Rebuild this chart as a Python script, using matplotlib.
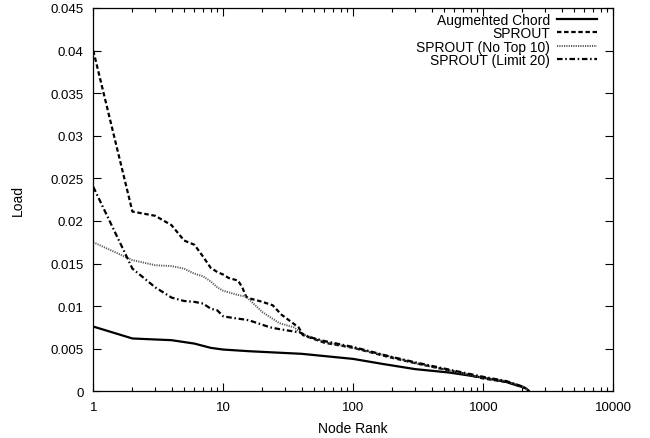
import matplotlib
matplotlib.use("Agg")
import matplotlib.pyplot as plt
from matplotlib.ticker import FixedLocator, LogLocator, NullFormatter

plt.rcParams['font.family'] = ['Liberation Sans', 'DejaVu Sans']

# ---- data ----
chord_rank = [1, 2, 4, 6, 8, 10, 16, 40, 100, 170, 300, 550, 1000, 1500, 1800, 2000, 2150, 2250]
chord_load = [0.0076, 0.0062, 0.0060, 0.0056, 0.0051, 0.0049, 0.0047, 0.0044, 0.0038, 0.0032,
              0.0026, 0.0022, 0.0016, 0.0011, 0.0007, 0.0005, 0.0003, 0.0]

sprout_rank = [1, 2, 3, 4, 5, 6, 7, 8, 9, 10, 11, 13, 14, 15, 16, 20, 24, 28, 38, 41, 60, 100,
               190, 300, 490, 700, 1000, 1500, 1970, 2150, 2250]
sprout_load = [0.0400, 0.0211, 0.0206, 0.0195, 0.0177, 0.0172, 0.0158, 0.0145, 0.0140, 0.0137,
               0.0133, 0.0130, 0.0122, 0.0111, 0.0109, 0.0105, 0.0101, 0.0090, 0.0075, 0.0066,
               0.0057, 0.0051, 0.0040, 0.0033, 0.0026, 0.0021, 0.0015, 0.0011, 0.0006, 0.0003, 0.0]

notop_rank = [1, 2, 3, 4, 5, 6, 7, 8, 9, 10, 13, 15, 16, 20, 27, 35, 41, 60, 100,
              190, 300, 490, 700, 1000, 1500, 1970, 2150, 2250]
notop_load = [0.0175, 0.0154, 0.0148, 0.0147, 0.0144, 0.0138, 0.0135, 0.0129, 0.0122, 0.0118,
              0.0113, 0.0111, 0.0107, 0.0093, 0.0080, 0.0075, 0.0067, 0.0058, 0.0051,
              0.0041, 0.0033, 0.0026, 0.0021, 0.0016, 0.0012, 0.0006, 0.0003, 0.0]

limit_rank = [1, 2, 3, 4, 5, 6, 7, 8, 9, 10, 12, 15, 16, 23, 27, 39, 45, 60, 100,
              190, 300, 490, 700, 1000, 1500, 1970, 2150, 2250]
limit_load = [0.0240, 0.0144, 0.0122, 0.0110, 0.0106, 0.0105, 0.0103, 0.0097, 0.0095, 0.0088,
              0.0086, 0.0084, 0.0083, 0.0075, 0.0073, 0.0069, 0.0064, 0.0059, 0.0052,
              0.0041, 0.0034, 0.0027, 0.0022, 0.0017, 0.0012, 0.0006, 0.0003, 0.0]

labels = ["Augmented Chord", "SPROUT", "SPROUT (No Top 10)", "SPROUT (Limit 20)"]
y_ticks = [0, 0.005, 0.01, 0.015, 0.02, 0.025, 0.03, 0.035, 0.04, 0.045]
y_tick_labels = ["0", "0.005", "0.01", "0.015", "0.02", "0.025", "0.03", "0.035", "0.04", "0.045"]
x_ticks = [1, 10, 100, 1000, 10000]
x_tick_labels = ["1", "10", "100", "1000", "10000"]

# ---- figure ----
fig = plt.figure(figsize=(6.5, 4.39), dpi=100)
ax = fig.add_axes([0.1435, 0.1064, 0.80, 0.8731])

ax.plot(chord_rank, chord_load, color='black', lw=1.6, label=labels[0])
ax.plot(sprout_rank, sprout_load, color='black', lw=1.6, dashes=(2.0, 1.2), label=labels[1])
ax.plot(notop_rank, notop_load, color='0.35', lw=1.4, dashes=(0.6, 0.6), label=labels[2])
ax.plot(limit_rank, limit_load, color='black', lw=1.6, dashes=(2.5, 1.2, 0.7, 1.2), label=labels[3])

ax.set_xscale('log')
ax.set_xlim(1, 10000)
ax.set_ylim(0, 0.045)
ax.xaxis.set_major_locator(FixedLocator(x_ticks))
ax.set_xticklabels(x_tick_labels)
ax.xaxis.set_minor_locator(LogLocator(base=10, subs=range(2, 10)))
ax.xaxis.set_minor_formatter(NullFormatter())
ax.set_yticks(y_ticks)
ax.set_yticklabels(y_tick_labels)

ax.tick_params(which='both', direction='in', top=True, right=True, labelsize=9.5,
               color='black', width=0.8)
ax.tick_params(axis='y', pad=7)
ax.tick_params(axis='x', pad=7)
ax.tick_params(which='major', length=6)
ax.tick_params(which='minor', length=3)
for s in ax.spines.values():
    s.set_linewidth(0.9)

ax.set_xlabel("Node Rank", fontsize=10, labelpad=6)
ax.set_ylabel("Load", fontsize=10, labelpad=18)

leg = ax.legend(loc='upper right', frameon=False, markerfirst=False, fontsize=10,
                handlelength=2.9, handletextpad=0.5, labelspacing=-0.05,
                borderpad=0, borderaxespad=0, bbox_to_anchor=(0.969, 0.987))

fig.savefig("out.png", dpi=100)
